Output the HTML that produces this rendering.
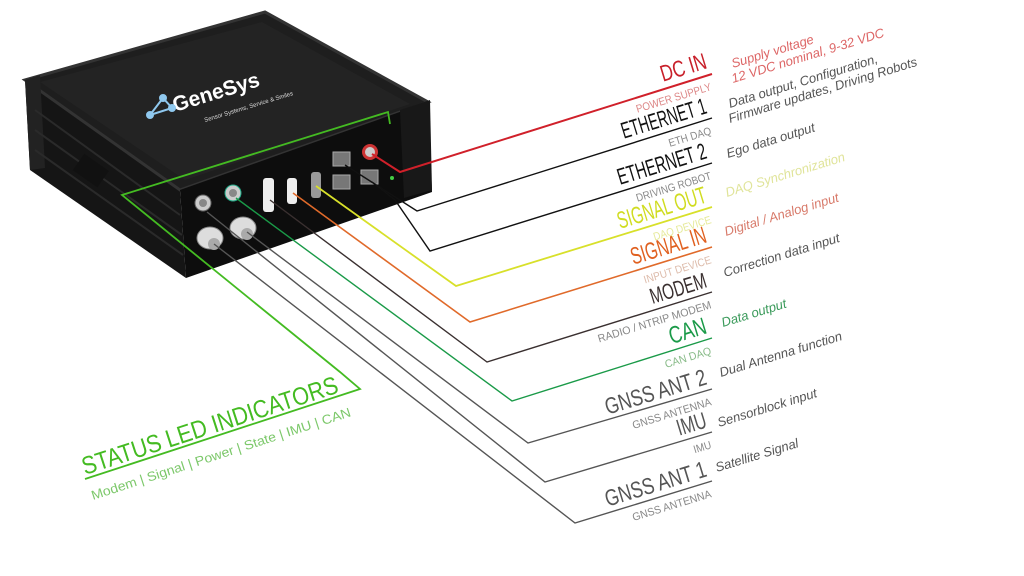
<!DOCTYPE html>
<html><head><meta charset="utf-8"><style>
html,body{margin:0;padding:0;background:#fff;}
svg{display:block}
.t{font-family:"Liberation Sans",sans-serif;}
.d{font-family:"Liberation Sans",sans-serif;font-style:italic;font-size:13px;}
</style></head><body>
<svg width="1024" height="576" viewBox="0 0 1024 576" xmlns="http://www.w3.org/2000/svg">
<rect width="1024" height="576" fill="#fff"/>
<!-- device -->
<polygon points="25,80 180,190 186,278 30,170" fill="#151515"/>
<polygon points="25,80 265,12 428,102 180,190" fill="#1e1e1e" stroke="#333" stroke-width="3"/>
<polygon points="40,82 262,22 410,104 185,180" fill="#232323"/>
<polygon points="180,190 428,102 432,192 186,278" fill="#0d0d0d"/>
<polygon points="400,110 430,100 432,190 404,198" fill="#181818"/>
<polygon points="25,80 40,75 45,168 30,170" fill="#222"/>
<g stroke="#2a2a2a" stroke-width="2"><line x1="35" y1="110" x2="180" y2="215"/><line x1="35" y1="130" x2="182" y2="235"/><line x1="35" y1="150" x2="183" y2="255"/></g>
<rect x="76" y="160" width="30" height="20" fill="#111" transform="rotate(35 90 170)"/>
<text x="175" y="112" fill="#fff" font-family="Liberation Sans" font-weight="bold" font-size="21" transform="rotate(-17 175 112)">GeneSys</text>
<text x="205" y="122" fill="#ddd" font-family="Liberation Sans" font-size="6" transform="rotate(-17 205 122)">Sensor Systems, Service &amp; Smiles</text>
<g stroke="#8fc8ee" stroke-width="2" fill="#8fc8ee"><polyline points="150,115 163,98 172,108 150,115" fill="none"/><circle cx="150" cy="115" r="3"/><circle cx="163" cy="98" r="3"/><circle cx="172" cy="108" r="3"/></g>
<!-- ports -->
<circle cx="203" cy="203" r="8" fill="#ccc" stroke="#666"/><circle cx="203" cy="203" r="4" fill="#888"/>
<circle cx="233" cy="193" r="8" fill="#ccc" stroke="#2a8"/><circle cx="233" cy="193" r="4" fill="#888"/>
<ellipse cx="210" cy="238" rx="13" ry="11" fill="#ddd" stroke="#888"/><ellipse cx="214" cy="244" rx="6" ry="6" fill="#aaa"/>
<ellipse cx="243" cy="228" rx="13" ry="11" fill="#ddd" stroke="#888"/><ellipse cx="247" cy="234" rx="6" ry="6" fill="#aaa"/>
<rect x="263" y="178" width="11" height="34" rx="3" fill="#eee"/>
<rect x="287" y="178" width="10" height="26" rx="3" fill="#eee"/>
<rect x="311" y="172" width="10" height="26" rx="3" fill="#999"/>
<rect x="333" y="152" width="17" height="14" fill="#777" stroke="#aaa"/>
<rect x="333" y="175" width="17" height="14" fill="#777" stroke="#aaa"/>
<rect x="361" y="170" width="17" height="14" fill="#777" stroke="#aaa"/>
<circle cx="370" cy="152" r="8" fill="#c33"/><circle cx="370" cy="152" r="5" fill="#ccc"/>
<circle cx="392" cy="178" r="2" fill="#4c4"/>
<!-- connectors -->
<g fill="none" stroke-width="1.4">
<polyline points="372,154 400,172 712,74" stroke="#d0202a" stroke-width="2"/>
<polyline points="345,165 417,211 712,118" stroke="#111"/>
<polyline points="372,182 395,200 430,251 712,163" stroke="#111"/>
<polyline points="316,186 456,286 712,207" stroke="#d8e02a" stroke-width="1.8"/>
<polyline points="293,193 470,322 712,247" stroke="#e06a2a" stroke-width="1.6"/>
<polyline points="270,200 487,362 712,292" stroke="#3a3030"/>
<polyline points="236,198 512,401 712,338" stroke="#1a9a48"/>
<polyline points="247,232 528,443 712,389" stroke="#555"/>
<polyline points="207,212 545,482 712,432" stroke="#555"/>
<polyline points="214,244 575,523 712,481" stroke="#555"/>
<polyline points="390,124 388,112 122,195 340,372 360,389 85,479" stroke="#44bb22" stroke-width="1.8"/>
</g>
<!-- labels -->
<g class="t" text-anchor="end" lengthAdjust="spacingAndGlyphs">
<text x="708" y="68" font-size="23" fill="#c8202a" textLength="47" lengthAdjust="spacingAndGlyphs" transform="rotate(-17 708 68)">DC IN</text>
<text x="712" y="90" font-size="11" fill="#d88" textLength="78" lengthAdjust="spacingAndGlyphs" transform="rotate(-17 712 90)">POWER SUPPLY</text>
<text x="708" y="113" font-size="23" fill="#111" textLength="88" lengthAdjust="spacingAndGlyphs" transform="rotate(-17 708 113)">ETHERNET 1</text>
<text x="712" y="134" font-size="11" fill="#888" textLength="44" lengthAdjust="spacingAndGlyphs" transform="rotate(-17 712 134)">ETH DAQ</text>
<text x="708" y="158" font-size="23" fill="#111" textLength="92" lengthAdjust="spacingAndGlyphs" transform="rotate(-17 708 158)">ETHERNET 2</text>
<text x="712" y="179" font-size="11" fill="#888" textLength="78" lengthAdjust="spacingAndGlyphs" transform="rotate(-17 712 179)">DRIVING ROBOT</text>
<text x="708" y="202" font-size="24" fill="#d0dc20" textLength="92" lengthAdjust="spacingAndGlyphs" transform="rotate(-17 708 202)">SIGNAL OUT</text>
<text x="712" y="223" font-size="11" fill="#e6ea9a" textLength="60" lengthAdjust="spacingAndGlyphs" transform="rotate(-17 712 223)">DAQ DEVICE</text>
<text x="708" y="242" font-size="24" fill="#e06020" textLength="78" lengthAdjust="spacingAndGlyphs" transform="rotate(-17 708 242)">SIGNAL IN</text>
<text x="712" y="263" font-size="11" fill="#dba" textLength="70" lengthAdjust="spacingAndGlyphs" transform="rotate(-17 712 263)">INPUT DEVICE</text>
<text x="708" y="287" font-size="22" fill="#3a3030" textLength="58" lengthAdjust="spacingAndGlyphs" transform="rotate(-17 708 287)">MODEM</text>
<text x="712" y="308" font-size="11" fill="#888" textLength="118" lengthAdjust="spacingAndGlyphs" transform="rotate(-17 712 308)">RADIO / NTRIP MODEM</text>
<text x="708" y="333" font-size="24" fill="#1a9a48" textLength="38" lengthAdjust="spacingAndGlyphs" transform="rotate(-17 708 333)">CAN</text>
<text x="712" y="354" font-size="11" fill="#8b8" textLength="48" lengthAdjust="spacingAndGlyphs" transform="rotate(-17 712 354)">CAN DAQ</text>
<text x="708" y="384" font-size="23" fill="#555" textLength="105" lengthAdjust="spacingAndGlyphs" transform="rotate(-17 708 384)">GNSS ANT 2</text>
<text x="712" y="405" font-size="11" fill="#888" textLength="82" lengthAdjust="spacingAndGlyphs" transform="rotate(-17 712 405)">GNSS ANTENNA</text>
<text x="708" y="427" font-size="23" fill="#555" textLength="30" lengthAdjust="spacingAndGlyphs" transform="rotate(-17 708 427)">IMU</text>
<text x="712" y="448" font-size="11" fill="#888" textLength="18" lengthAdjust="spacingAndGlyphs" transform="rotate(-17 712 448)">IMU</text>
<text x="708" y="476" font-size="23" fill="#555" textLength="105" lengthAdjust="spacingAndGlyphs" transform="rotate(-17 708 476)">GNSS ANT 1</text>
<text x="712" y="497" font-size="11" fill="#888" textLength="82" lengthAdjust="spacingAndGlyphs" transform="rotate(-17 712 497)">GNSS ANTENNA</text>
</g>
<g class="d">
<text x="733" y="68" fill="#d66" transform="rotate(-17 733 68)">Supply voltage</text>
<text x="733" y="83" fill="#d66" transform="rotate(-17 733 83)">12 VDC nominal, 9-32 VDC</text>
<text x="730" y="108" fill="#555" transform="rotate(-17 730 108)">Data output, Configuration,</text>
<text x="730" y="123" fill="#555" transform="rotate(-17 730 123)">Firmware updates, Driving Robots</text>
<text x="728" y="158" fill="#555" transform="rotate(-17 728 158)">Ego data output</text>
<text x="727" y="197" fill="#e0e49a" transform="rotate(-17 727 197)">DAQ Synchronization</text>
<text x="726" y="236" fill="#d87a6a" transform="rotate(-17 726 236)">Digital / Analog input</text>
<text x="725" y="277" fill="#555" transform="rotate(-17 725 277)">Correction data input</text>
<text x="723" y="327" fill="#3a9a5a" transform="rotate(-17 723 327)">Data output</text>
<text x="721" y="377" fill="#555" transform="rotate(-17 721 377)">Dual Antenna function</text>
<text x="719" y="427" fill="#555" transform="rotate(-17 719 427)">Sensorblock input</text>
<text x="717" y="472" fill="#555" transform="rotate(-17 717 472)">Satellite Signal</text>
</g>
<text class="t" x="85" y="475" font-size="25" fill="#44bb22" textLength="268" lengthAdjust="spacingAndGlyphs" transform="rotate(-18 85 475)">STATUS LED INDICATORS</text>
<text x="93" y="500" font-family="Liberation Sans" font-size="13" fill="#7cc86a" textLength="272" lengthAdjust="spacingAndGlyphs" transform="rotate(-18 93 500)">Modem | Signal | Power | State | IMU | CAN</text>
</svg>
</body></html>
